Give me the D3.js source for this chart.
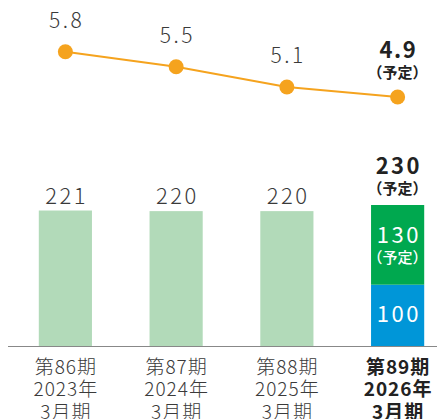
<!DOCTYPE html>
<html lang="ja">
<head>
<meta charset="UTF-8">
<title>Chart</title>
<style>
  body { margin: 0; background: #fff; }
  svg text { font-family: "Noto Sans CJK JP", "Noto Sans", sans-serif; }
</style>
</head>
<body>
<div id="chart"></div>
<script src="https://cdn.jsdelivr.net/npm/d3@7/dist/d3.min.js"></script>
<script>
  // data
  const periods = ["第86期", "第87期", "第88期", "第89期"];
  const years = ["2023年", "2024年", "2025年", "2026年"];
  const months = ["3月期", "3月期", "3月期", "3月期"];
  const barValues = [221, 220, 220, 230];
  const planBase = 100;     // blue part of the last bar
  const planAdd = 130;      // green part of the last bar
  const lineValues = [5.8, 5.5, 5.1, 4.9];
  const planNote = "（予定）";

  const W = 437, H = 419;
  const svg = d3.select("#chart").append("svg")
    .attr("width", W)
    .attr("height", H);

  const x = d3.scaleBand()
    .domain(d3.range(periods.length))
    .range([10, 453])
    .paddingInner(0.52)
    .paddingOuter(0.26);

  const yBar = d3.scaleLinear().domain([0, 230]).range([346, 205]);
  const yLine = d3.scaleLinear().domain([4, 6]).range([142.4, 41.6]);

  const last = periods.length - 1;
  const cx = i => x(i) + x.bandwidth() / 2;

  // helper for spaced text: shift by half the trailing letter-spacing
  function label(xPos, yPos, txt, size, weight, fill, ls) {
    return svg.append("text")
      .attr("x", xPos + ls / 2).attr("y", yPos)
      .attr("text-anchor", "middle")
      .attr("font-size", size)
      .attr("font-weight", weight)
      .attr("letter-spacing", ls)
      .attr("fill", fill)
      .text(txt);
  }

  // bars (past years)
  svg.selectAll(".bar")
    .data(barValues.slice(0, last))
    .join("rect")
    .attr("x", (d, i) => x(i))
    .attr("y", d => yBar(d))
    .attr("width", x.bandwidth())
    .attr("height", d => yBar(0) - yBar(d))
    .attr("fill", "#b2dab9");

  // stacked plan bar
  svg.append("rect")
    .attr("x", x(last)).attr("width", x.bandwidth())
    .attr("y", yBar(planBase)).attr("height", yBar(0) - yBar(planBase))
    .attr("fill", "#0096d8");
  svg.append("rect")
    .attr("x", x(last)).attr("width", x.bandwidth())
    .attr("y", yBar(barValues[last])).attr("height", yBar(planBase) - yBar(barValues[last]))
    .attr("fill", "#00a84f");

  // baseline
  svg.append("line")
    .attr("x1", 8).attr("x2", W)
    .attr("y1", yBar(0) + 0.5).attr("y2", yBar(0) + 0.5)
    .attr("stroke", "#888").attr("stroke-width", 1.2);

  // bar labels
  barValues.slice(0, last).forEach((d, i) => {
    label(cx(i), yBar(d) - 7, d, 22, 300, "#3a3a3a", 2.5);
  });
  label(cx(last), yBar(barValues[last]) - 31, barValues[last], 22, 700, "#222", 2.5);
  label(cx(last), yBar(barValues[last]) - 11, planNote, 15, 700, "#222", 0);

  // labels inside plan bar
  label(cx(last), 243, planAdd, 22, 400, "#fff", 2.5);
  label(cx(last), 263, planNote, 15, 500, "#fff", 0);
  label(cx(last), 321.5, planBase, 22, 400, "#fff", 2.5);

  // line
  const line = d3.line()
    .x((d, i) => cx(i))
    .y(d => yLine(d));

  svg.append("path")
    .datum(lineValues)
    .attr("fill", "none")
    .attr("stroke", "#f5a31e")
    .attr("stroke-width", 2)
    .attr("d", line);

  svg.selectAll(".dot")
    .data(lineValues)
    .join("circle")
    .attr("cx", (d, i) => cx(i))
    .attr("cy", d => yLine(d))
    .attr("r", 7.5)
    .attr("fill", "#f5a31e");

  lineValues.slice(0, last).forEach((d, i) => {
    label(cx(i), yLine(d) - 24, d.toFixed(1), 21, 300, "#3a3a3a", 2.5);
  });
  label(cx(last), yLine(lineValues[last]) - 39, lineValues[last].toFixed(1), 22, 700, "#222", 1.5);
  label(cx(last), yLine(lineValues[last]) - 19, planNote, 15, 700, "#222", 0);

  // x axis labels
  periods.forEach((p, i) => {
    const bold = i === last;
    [p, years[i], months[i]].forEach((s, k) => {
      label(cx(i), 373.5 + k * 22.5, s, 19, bold ? 700 : 300, bold ? "#222" : "#3a3a3a", 1);
    });
  });
</script>
</body>
</html>
